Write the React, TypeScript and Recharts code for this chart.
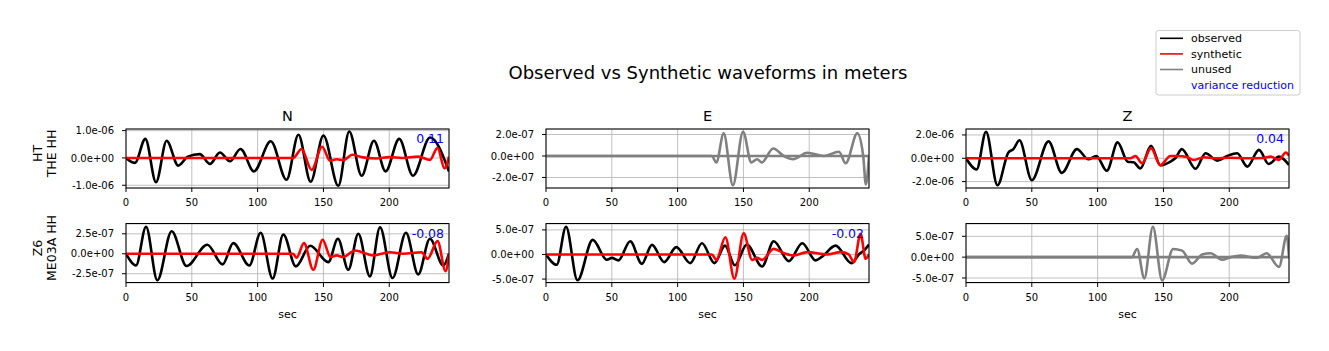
import React from "react";
import { LineChart, Line, XAxis, YAxis, CartesianGrid } from "recharts";

const FONT = "'DejaVu Sans', sans-serif";

// ---- tick labels ----
const timeTicks = [0, 50, 100, 150, 200];
const timeDomain = [0, 245.4];

// ---- units ----
const U6 = 1e-6;
const U7 = 1e-7;

// ---- HT.THE HH, component N (x1e-6 m) ----
const htN_obsT = [0, 6.8, 14.7, 22.8, 30.9, 39.7, 47, 56, 63.8, 71.4, 79, 87, 97.2, 110, 122, 131, 140.3, 150, 161.3, 169.6, 179, 188.4, 197.2, 207.6, 218, 231, 245.4];
const htN_obsV = [0, -0.18, 0.7, -0.89, 0.63, -0.28, 0.05, 0.14, -0.22, 0.2, -0.12, 0.33, -0.49, 0.61, -0.8, 0.85, -0.87, 0.82, -1.02, 0.97, -0.65, 0.63, -0.49, 0.7, -0.65, 0.75, -0.5];
const htN_synT = [0, 127, 133.4, 141, 149, 155, 160, 165, 172, 180, 190, 200, 210, 222, 231, 236.7, 242, 245.4];
const htN_synV = [0, 0, 0.33, -0.44, 0.41, -0.1, -0.05, -0.08, 0.12, 0.02, -0.02, 0.03, 0, 0.05, -0.07, 0.37, -0.38, 0.05];

// ---- HT.THE HH, component E (x1e-7 m), unused ----
const htE_obsT = [0, 126, 129.4, 135, 142, 149.7, 156, 160.4, 164, 172.6, 180.7, 187.8, 198.5, 211, 222.6, 227.7, 236.5, 241, 243, 245.4];
const htE_obsV = [0, 0, -0.6, 2.1, -2.73, 2.26, -0.6, -0.3, -0.6, 0.7, 0, -0.3, 0.3, 0, 0.4, -0.68, 2.1, 0, -2.65, 0];
const htE_synT = [0, 245.4];
const htE_synV = [0, 0];

// ---- HT.THE HH, component Z (x1e-6 m) ----
const htZ_obsT = [0, 8.1, 15.2, 23.9, 32.2, 36, 40.6, 50, 62.7, 72.8, 84.3, 93, 99, 107, 115.2, 122.8, 127.4, 132.5, 140.6, 147.7, 155, 159, 164, 174.4, 182, 190.9, 198.5, 206, 213.7, 222.6, 230, 237.8, 245.4];
const htZ_obsV = [0, -0.96, 2.28, -2.32, 0.5, 0.78, 1.54, -1.88, 1.45, -1.25, 0.78, -0.09, 0.2, -1.07, 1.36, -0.29, -0.35, -0.87, 1.07, -0.6, -0.3, 0, 0.78, -0.9, 0.43, -0.2, 0.2, 0.43, -0.72, 0.72, -0.49, 0.14, -0.58];
const htZ_synT = [0, 125, 128.7, 133.8, 140.6, 147.7, 155.3, 160.4, 168, 173, 180.7, 190, 200, 215, 226, 231.5, 237.8, 243, 245.4];
const htZ_synV = [0, 0, 0.2, -0.43, 0.87, -0.6, 0.2, 0.2, 0.1, -0.15, 0.09, 0, 0.05, 0, 0.02, 0.14, -0.14, 0.5, 0.2];

// ---- Z6.ME03A HH, component N (x1e-7 m) ----
const z6N_obsT = [0, 7.6, 15.2, 23.8, 34.7, 46, 61.8, 73.4, 81.5, 93.7, 102.3, 111.4, 119.5, 129, 140, 153.7, 161, 168.9, 176.5, 185.3, 193, 202.5, 212.7, 222, 230.9, 241, 245.4];
const z6N_obsV = [0, -1.46, 3.39, -3.32, 2.83, -1.54, 1.13, -1.33, 1.33, -1.46, 2.63, -3.1, 2.42, -1.58, 1.0, -1.04, 1.88, -2.0, 2.5, -2.83, 3.33, -3.04, 2.63, -2.58, 1.88, -1.46, 0];
const z6N_synT = [0, 127, 129.6, 135.2, 142.3, 149.4, 155.4, 160, 165, 174, 182.8, 187.8, 200.5, 210.6, 224.6, 229.1, 236.7, 242.8, 245.4];
const z6N_synV = [0, 0, -0.5, 1.33, -2.0, 1.75, -0.42, -0.2, -0.4, 0.42, 0, -0.2, 0.2, 0, 0.2, -0.63, 1.58, -2.17, 0];

// ---- Z6.ME03A HH, component E (x1e-7 m) ----
const z6E_obsT = [0, 8.1, 15.2, 23.9, 35.5, 46.2, 50, 55, 64, 72.8, 80.5, 89.8, 99, 109.6, 118.5, 128, 136, 143.5, 152.5, 164.2, 173, 184.5, 194.7, 204.8, 210, 220, 232, 238, 241.6, 245.4];
const z6E_obsV = [0, -2.1, 5.65, -5.25, 2.97, -1.08, -0.68, -1.2, 2.7, -1.9, 1.96, -1.55, 1.49, -1.76, 2.3, -1.76, 1.8, -2.2, 2.0, -2.43, 2.7, -1.35, 2.3, -1.2, -0.4, 1.8, -1.76, 0.1, 0.8, 2.0];
const z6E_synT = [0, 126, 129.4, 136.3, 143.1, 150.2, 156.6, 160.4, 164.2, 173, 180.7, 188.3, 198.5, 213.7, 223.9, 230, 234, 239, 242.9, 245.4];
const z6E_synV = [0, 0, -1.1, 3.5, -4.93, 4.3, -1.1, -0.68, -1.1, 1.15, 0.27, -0.2, 0.47, 0, 0.47, 0, -1.55, 4.2, -0.88, 0.1];

// ---- Z6.ME03A HH, component Z (x1e-7 m), unused ----
const z6Z_obsT = [0, 126, 130, 135.5, 142, 149, 157.4, 164.2, 171.8, 179.4, 185.8, 194.7, 201, 208.6, 221, 228.4, 237.8, 243.7, 245.4];
const z6Z_obsV = [0, 0, 1.95, -5.08, 7.3, -5.56, 1.95, 1.56, -1.56, 0.63, 0.94, -0.63, 0, 0.4, -0.16, 0.94, -2.34, 5.1, 0];
const z6Z_synT = [0, 245.4];
const z6Z_synV = [0, 0];

// ---- variance reduction labels ----
const vrLabels = [["0.11", null, "0.04"], ["-0.08", "-0.02", null]];
const componentTitles = ["N", "E", "Z"];
const stationLabels = [["HT", "THE HH"], ["Z6", "ME03A HH"]];

const COLORS = { observed: "#000000", synthetic: "#ff0000", unused: "#808080" };

const mk = (t: number[], v: number[], unit: number) => t.map((x, i) => ({ t: x, v: v[i] * unit }));

const sci = (v: number) => {
  const [m, e] = v.toExponential(1).split("e");
  const sign = e[0] === "-" ? "-" : "+";
  const d = e.replace(/^[+-]/, "").padStart(2, "0");
  return `${m}e${sign}${d}`;
};

type PanelDef = {
  obs: { t: number; v: number }[];
  syn: { t: number; v: number }[];
  used: boolean;
  domain: [number, number];
  ticks: number[];
};

const panels: PanelDef[][] = [
  [
    { obs: mk(htN_obsT, htN_obsV, U6), syn: mk(htN_synT, htN_synV, U6), used: true, domain: [-1.1e-6, 1.06e-6], ticks: [-1e-6, 0, 1e-6] },
    { obs: mk(htE_obsT, htE_obsV, U7), syn: mk(htE_synT, htE_synV, U7), used: false, domain: [-2.98e-7, 2.51e-7], ticks: [-2e-7, 0, 2e-7] },
    { obs: mk(htZ_obsT, htZ_obsV, U6), syn: mk(htZ_synT, htZ_synV, U6), used: true, domain: [-2.55e-6, 2.51e-6], ticks: [-2e-6, 0, 2e-6] },
  ],
  [
    { obs: mk(z6N_obsT, z6N_obsV, U7), syn: mk(z6N_synT, z6N_synV, U7), used: true, domain: [-3.66e-7, 3.73e-7], ticks: [-2.5e-7, 0, 2.5e-7] },
    { obs: mk(z6E_obsT, z6E_obsV, U7), syn: mk(z6E_synT, z6E_synV, U7), used: true, domain: [-5.8e-7, 6.2e-7], ticks: [-5e-7, 0, 5e-7] },
    { obs: mk(z6Z_obsT, z6Z_obsV, U7), syn: mk(z6Z_synT, z6Z_synV, U7), used: false, domain: [-6.2e-7, 7.95e-7], ticks: [-5e-7, 0, 5e-7] },
  ],
];

// ---- layout ----
const PW = 323;
const PH = 59;
const LEFTS = [126, 546, 966];
const TOPS = [129, 223.5];
const YW = 90;
const XH = 30;
const MT = 5;
const MR = 10;
const MB = 5;

function Panel({ def, left, top }: { def: PanelDef; left: number; top: number }) {
  const obsColor = def.used ? COLORS.observed : COLORS.unused;
  const synColor = def.used ? COLORS.synthetic : COLORS.unused;
  return (
    <div style={{ position: "absolute", left: left - YW, top: top - MT }}>
      <LineChart
        width={YW + PW + MR}
        height={MT + PH + XH + MB}
        margin={{ top: MT, right: MR, bottom: MB, left: 0 }}
      >
        <CartesianGrid stroke="#b0b0b0" strokeWidth={0.8} />
        <XAxis
          type="number"
          dataKey="t"
          domain={timeDomain}
          ticks={timeTicks}
          allowDataOverflow
          interval={0}
          height={XH}
          axisLine={false}
          tickLine={{ stroke: "#000" }}
          tickSize={4}
          tickMargin={7}
          tick={{ fontSize: 10, fill: "#000", fontFamily: FONT }}
        />
        <YAxis
          type="number"
          domain={def.domain}
          ticks={def.ticks}
          allowDataOverflow
          interval={0}
          width={YW}
          axisLine={false}
          tickLine={{ stroke: "#000" }}
          tickSize={4}
          tickMargin={8}
          tickFormatter={sci}
          tick={{ fontSize: 10, fill: "#000", fontFamily: FONT }}
        />
        <Line data={def.obs} dataKey="v" type="monotone" stroke={obsColor} strokeWidth={2.6} dot={false} activeDot={false} isAnimationActive={false} />
        <Line data={def.syn} dataKey="v" type="monotone" stroke={synColor} strokeWidth={2.6} dot={false} activeDot={false} isAnimationActive={false} />
      </LineChart>
    </div>
  );
}

export default function App() {
  const legendItems = [
    { label: "observed", color: COLORS.observed, line: true },
    { label: "synthetic", color: COLORS.synthetic, line: true },
    { label: "unused", color: COLORS.unused, line: true },
    { label: "variance reduction", color: "#0000ff", line: false },
  ];
  return (
    <div style={{ position: "absolute", left: 0, top: 0, width: 1329, height: 351, background: "#fff", fontFamily: FONT }}>
      {panels.map((row, r) =>
        row.map((def, c) => <Panel key={`${r}-${c}`} def={def} left={LEFTS[c]} top={TOPS[r]} />)
      )}
      <svg width={1329} height={351} style={{ position: "absolute", left: 0, top: 0, pointerEvents: "none" }} fontFamily={FONT}>
        <text x={708} y={78.5} textAnchor="middle" fontSize={18} fill="#000">
          Observed vs Synthetic waveforms in meters
        </text>
        {componentTitles.map((t, c) => (
          <text key={t} x={LEFTS[c] + PW / 2} y={120.7} textAnchor="middle" fontSize={14.5} fill="#000">
            {t}
          </text>
        ))}
        {TOPS.map((top, r) =>
          LEFTS.map((left, c) => (
            <rect key={`b${r}${c}`} x={left} y={top} width={PW} height={PH} fill="none" stroke="#000" strokeWidth={1} />
          ))
        )}
        {vrLabels.map((row, r) =>
          row.map((lab, c) =>
            lab ? (
              <text key={`v${r}${c}`} x={LEFTS[c] + PW - 5} y={TOPS[r] + 14} textAnchor="end" fontSize={12.5} fill="#0000ff">
                {lab}
              </text>
            ) : null
          )
        )}
        {stationLabels.map((lines, r) => {
          const cy = TOPS[r] + PH / 2 - 5;
          return (
            <g key={`s${r}`}>
              <text transform={`translate(42, ${cy}) rotate(-90)`} textAnchor="middle" fontSize={12.5} fill="#000">
                {lines[0]}
              </text>
              <text transform={`translate(56, ${cy}) rotate(-90)`} textAnchor="middle" fontSize={12.5} fill="#000">
                {lines[1]}
              </text>
            </g>
          );
        })}
        {LEFTS.map((left, c) => (
          <text key={`x${c}`} x={left + PW / 2} y={318} textAnchor="middle" fontSize={11} fill="#000">
            sec
          </text>
        ))}
        <rect x={1156} y={30.5} width={144} height={64.5} rx={2.5} fill="#fff" fillOpacity={0.8} stroke="#cccccc" strokeWidth={1} />
        {legendItems.map((it, i) => {
          const cy = 38.3 + i * 15.6;
          return (
            <g key={it.label}>
              {it.line ? <line x1={1160} x2={1183} y1={cy} y2={cy} stroke={it.color} strokeWidth={1.6} /> : null}
              <text x={1191} y={cy + 3.9} fontSize={11} fill={it.line ? "#000" : it.color}>
                {it.label}
              </text>
            </g>
          );
        })}
      </svg>
    </div>
  );
}
